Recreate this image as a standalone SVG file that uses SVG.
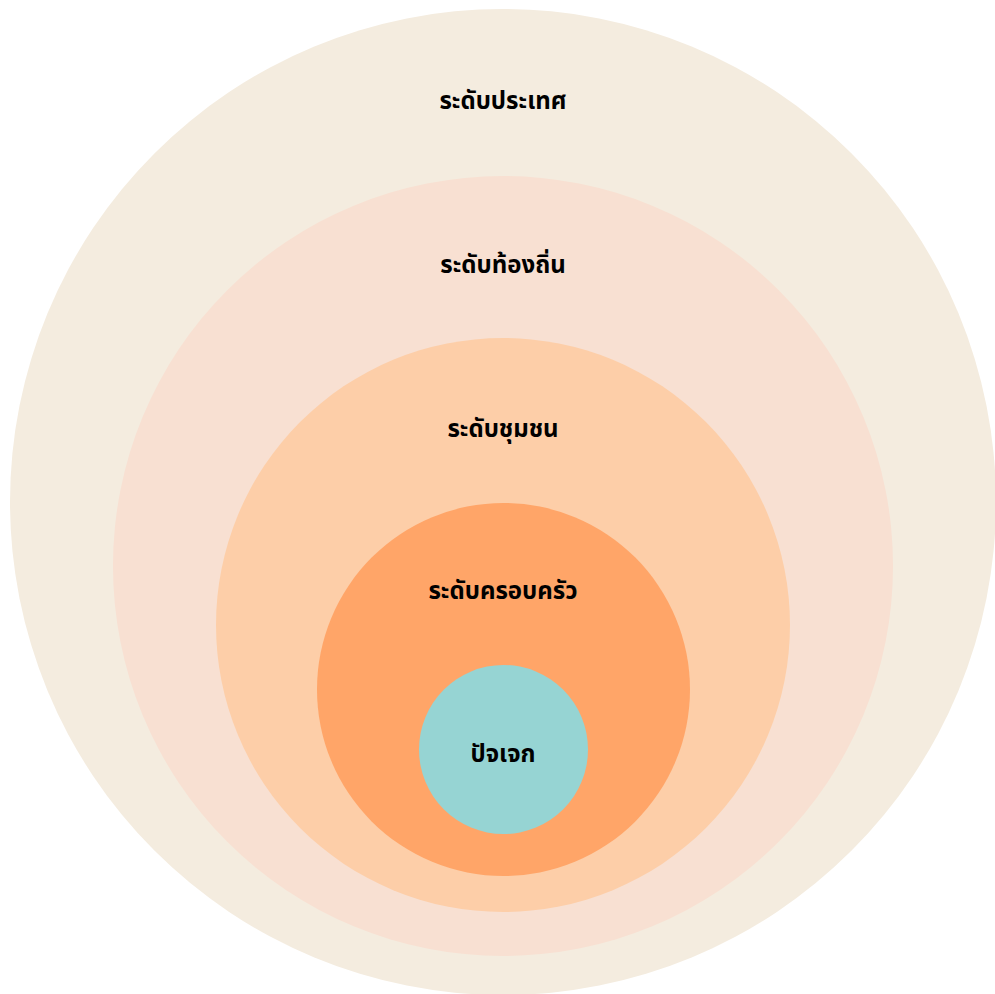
<svg xmlns="http://www.w3.org/2000/svg" width="995" height="994" viewBox="0 0 995 994">
<style>
.lbl{font-family:"Noto Sans Thai","Noto Sans","Leelawadee UI",sans-serif;font-weight:bold;font-size:24px;fill:#000;text-anchor:middle;dominant-baseline:central}
</style>
<rect width="995" height="994" fill="#ffffff"/>
<g id="country"><circle cx="503" cy="502" r="493" fill="#F4ECDF"/><text class="lbl" x="503" y="102">ระดับประเทศ</text></g>
<g id="local"><circle cx="503" cy="566" r="390" fill="#F8E0D2"/><text class="lbl" x="503" y="266">ระดับท้องถิ่น</text></g>
<g id="community"><circle cx="503" cy="625" r="287" fill="#FDCEA8"/><text class="lbl" x="503" y="430">ระดับชุมชน</text></g>
<g id="family"><circle cx="503.5" cy="689.5" r="186.5" fill="#FFA568"/><text class="lbl" x="503" y="592">ระดับครอบครัว</text></g>
<g id="individual"><circle cx="503.5" cy="749.5" r="84.5" fill="#96D4D3"/><text class="lbl" x="503" y="755">ปัจเจก</text></g>
<g id="connectors"/>
</svg>
